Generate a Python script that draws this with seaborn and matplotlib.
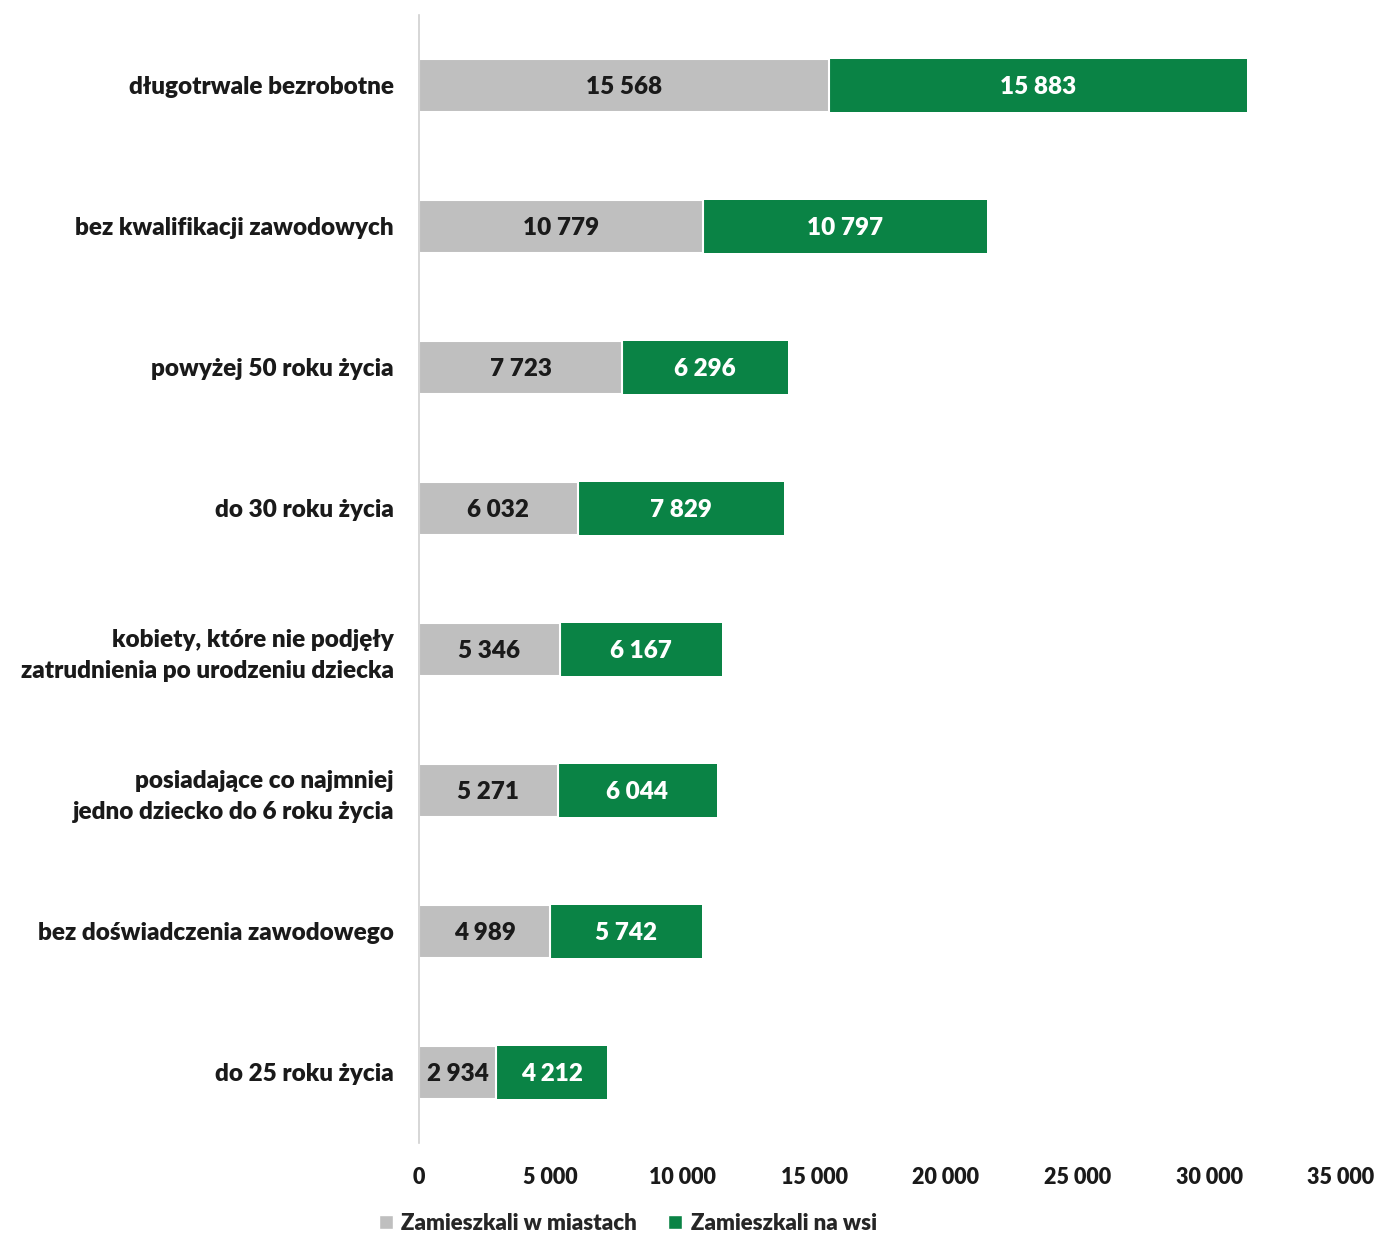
import matplotlib
matplotlib.use("Agg")
import matplotlib.pyplot as plt
import seaborn as sns
import pandas as pd
from matplotlib.patches import Patch

categories = [
    "długotrwale bezrobotne",
    "bez kwalifikacji zawodowych",
    "powyżej 50 roku życia",
    "do 30 roku życia",
    "kobiety, które nie podjęły\nzatrudnienia po urodzeniu dziecka",
    "posiadające co najmniej\njedno dziecko do 6 roku życia",
    "bez doświadczenia zawodowego",
    "do 25 roku życia",
]
miasto = [15568, 10779, 7723, 6032, 5346, 5271, 4989, 2934]
wies = [15883, 10797, 6296, 7829, 6167, 6044, 5742, 4212]
series_names = ["Zamieszkali w miastach", "Zamieszkali na wsi"]
xticks = [0, 5000, 10000, 15000, 20000, 25000, 30000, 35000]

GRAY = "#BFBFBF"
GREEN = "#0A8345"

sns.set_theme(style="white")
plt.rcParams["font.family"] = ["Lato", "DejaVu Sans"]

df = pd.DataFrame({"cat": categories, "miasto": miasto, "wies": wies})
df["total"] = df["miasto"] + df["wies"]

fig = plt.figure(figsize=(13.8, 12.33), dpi=100)
ax = fig.add_axes([0.3036, 0.073, 0.668, 0.915])

sns.barplot(data=df, y="cat", x="total", color=GREEN, saturation=1, width=0.38,
            orient="h", ax=ax, edgecolor="none")
sns.barplot(data=df, y="cat", x="miasto", color=GRAY, saturation=1, width=0.38,
            orient="h", ax=ax, edgecolor="white", linewidth=1.5)


def fmt(v):
    return f"{v:,}".replace(",", " ")


for i, (m, w) in enumerate(zip(miasto, wies)):
    ax.text(m / 2, i + 0.01, fmt(m), ha="center", va="center", fontsize=17.5,
            fontweight="heavy", color="#1a1a1a")
    ax.text(m + w / 2, i + 0.01, fmt(w), ha="center", va="center", fontsize=17.5,
            fontweight="heavy", color="white")

ax.set_xlim(0, 35000)
ax.set_ylim(7.5, -0.5)
ax.set_xticks(xticks)
ax.set_xticklabels([fmt(t) for t in xticks], fontsize=15.5, fontweight="heavy",
                   color="#1a1a1a")
ax.set_yticks(range(len(categories)))
ax.set_yticklabels(categories, fontsize=17.5, fontweight="heavy", color="#1a1a1a",
                   linespacing=1.5)
ax.tick_params(axis="y", length=0, pad=18)
ax.tick_params(axis="x", length=0, pad=17)
ax.set_xlabel("")
ax.set_ylabel("")
for s in ["top", "right", "bottom"]:
    ax.spines[s].set_visible(False)
ax.spines["left"].set_color("#D0D0D0")
ax.spines["left"].set_linewidth(1.2)

handles = [Patch(facecolor=GRAY, label=series_names[0]),
           Patch(facecolor=GREEN, label=series_names[1])]
fig.legend(handles=handles, loc="center", bbox_to_anchor=(0.455, 0.008),
           ncol=2, frameon=False, prop={"size": 16, "weight": "heavy"},
           handlelength=0.6, handleheight=0.6, handletextpad=0.4,
           columnspacing=1.4)

fig.savefig("out.png", dpi=100, facecolor="white")
